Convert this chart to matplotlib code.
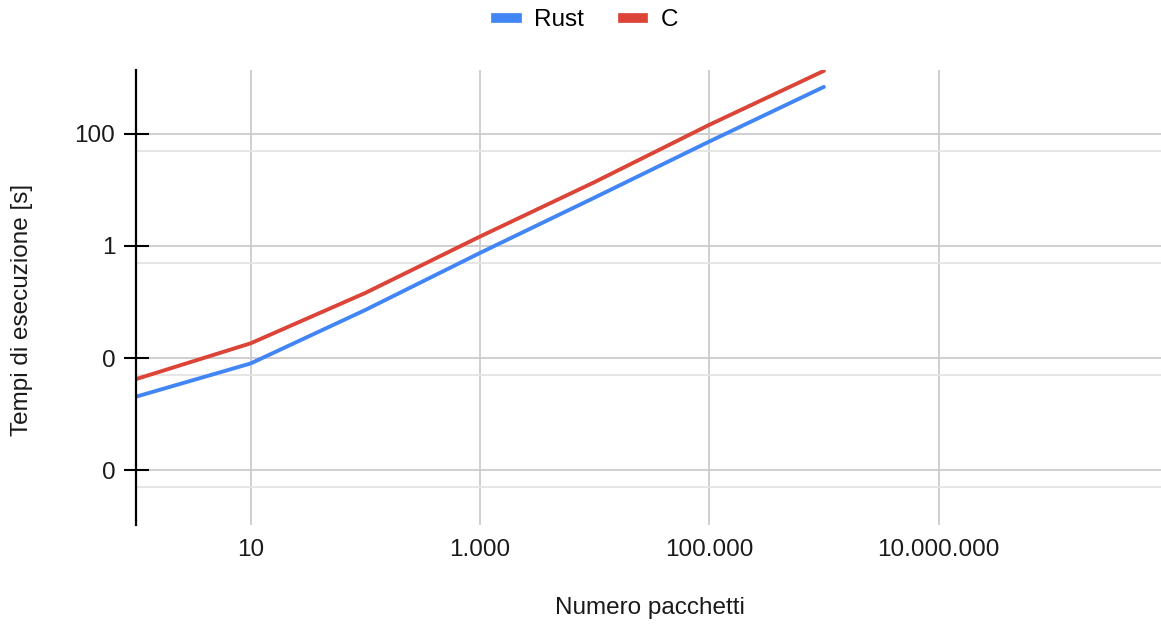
import matplotlib
matplotlib.use("Agg")
import matplotlib.pyplot as plt
from matplotlib.ticker import FixedLocator, NullFormatter
from matplotlib.lines import Line2D

plt.rcParams['font.family'] = ['Liberation Sans', 'DejaVu Sans']

# Data
pacchetti = [1, 10, 100, 1000, 10000, 100000, 1000000]
rust = [0.00204, 0.0080, 0.072, 0.75, 7.3, 73, 690]
c_vals = [0.0042, 0.0183, 0.145, 1.47, 13.8, 145, 1334]

x_ticks = [10, 1000, 100000, 10000000]
x_labels = ["10", "1.000", "100.000", "10.000.000"]
y_ticks = [0.0001, 0.01, 1, 100]
y_labels = ["0", "0", "1", "100"]
y_minor = [0.00005, 0.005, 0.5, 50]

W, H = 1161, 624
fig = plt.figure(figsize=(W / 100, H / 100), dpi=100)
ax = fig.add_axes([136 / W, 1 - 525 / H, 1 - 136 / W, (525 - 70) / H])

blue = "#4285F4"
red = "#DB4437"
ax.plot(pacchetti, rust, color=blue, lw=2.8, solid_capstyle='round', zorder=3)
ax.plot(pacchetti, c_vals, color=red, lw=2.8, solid_capstyle='round', zorder=3)

ax.set_xscale('log')
ax.set_yscale('log')
ax.set_xlim(1, 10 ** 8.94)
ax.set_ylim(10 ** -4.98, 10 ** 3.14)

ax.xaxis.set_major_locator(FixedLocator(x_ticks))
ax.set_xticklabels(x_labels)
ax.xaxis.set_minor_locator(FixedLocator([]))
ax.yaxis.set_major_locator(FixedLocator(y_ticks))
ax.set_yticklabels(y_labels)
ax.yaxis.set_minor_locator(FixedLocator(y_minor))
ax.yaxis.set_minor_formatter(NullFormatter())

FS = 17.5
ax.tick_params(axis='x', which='both', length=0, pad=10, labelsize=FS, labelcolor='#1a1a1a')
ax.tick_params(axis='y', which='major', direction='inout', length=18, width=1.5,
               pad=6, labelsize=FS, labelcolor='#1a1a1a', color='black')
ax.tick_params(axis='y', which='minor', length=0)

ax.grid(True, which='major', axis='both', color='#cccccc', lw=1.3, zorder=0)
ax.grid(True, which='minor', axis='y', color='#e4e4e4', lw=1.3, zorder=0)
ax.set_axisbelow(True)

for s in ['top', 'right', 'bottom']:
    ax.spines[s].set_visible(False)
ax.spines['left'].set_linewidth(1.6)
ax.spines['left'].set_color('black')
ax.spines['left'].set_zorder(4)

fig.text(650 / W, 1 - 608 / H, "Numero pacchetti", ha='center', va='center',
         fontsize=FS, color='#1a1a1a')
fig.text(22 / W, 1 - 310 / H, "Tempi di esecuzione [s]", ha='center', va='center',
         rotation=90, fontsize=FS, color='#1a1a1a')

handles = [Line2D([], [], color=blue, lw=7), Line2D([], [], color=red, lw=7)]
fig.legend(handles, ["Rust", "C"], loc='center', bbox_to_anchor=(587 / W, 1 - 20 / H),
           ncol=2, frameon=False, fontsize=FS, handlelength=0.85, handletextpad=0.7,
           columnspacing=1.6)

fig.savefig("out.png", dpi=100)
